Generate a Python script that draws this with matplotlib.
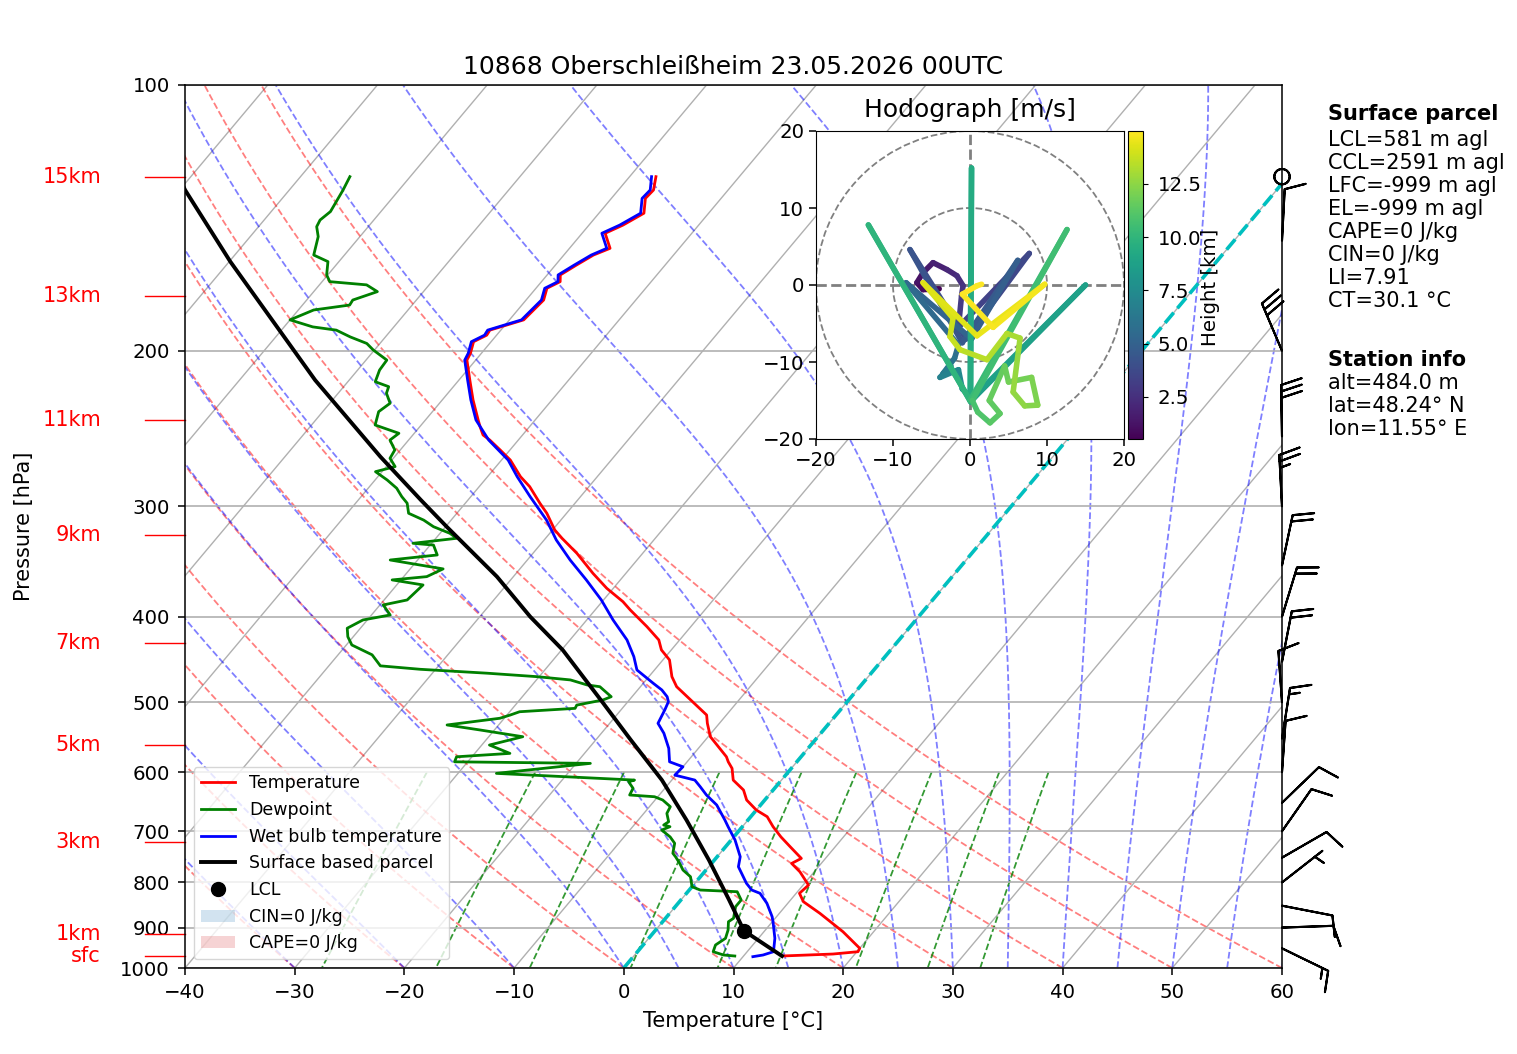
import numpy as np
import matplotlib
matplotlib.use("Agg")
import matplotlib.pyplot as plt
from matplotlib.collections import LineCollection
from matplotlib.patches import Circle, Patch
from matplotlib.lines import Line2D
from matplotlib.ticker import ScalarFormatter, NullLocator

plt.rcParams["font.size"] = 14.2

# ---- sounding (pressure hPa, temperature degC) ----
t_pres = [969.2, 964.2, 958.4, 949.9, 909.7, 867.2, 841.2, 823.0, 805.6, 778.2,
          761.3, 751.4, 729.0, 710.5, 691.8, 674.0, 662.4, 645.3, 628.7, 612.6,
          594.2, 584.1, 576.5, 547.1, 528.3, 517.0, 494.9, 480.2, 467.8, 447.8,
          436.3, 425.1, 410.6, 393.1, 384.7, 371.5, 357.3, 339.1, 326.1, 319.1,
          305.5, 297.6, 285.0, 277.7, 265.9, 259.0, 252.4, 249.1, 243.8, 239.5,
          227.3, 215.9, 204.9, 201.3, 195.3, 192.0, 189.5, 184.5, 175.2, 169.9,
          167.0, 164.1, 160.0, 155.8, 153.1, 147.2, 144.1, 139.7, 134.4, 131.5,
          127.0]
t_temp = [13.5, 18.0, 20.1, 20.0, 17.2, 13.7, 11.3, 10.3, 10.5, 8.7,
          7.3, 7.8, 5.9, 4.3, 2.8, 1.5, 0.0, -1.65, -2.7, -4.4,
          -5.4, -6.25, -6.8, -9.8, -11.1, -11.8, -14.7, -16.7, -17.9, -19.4,
          -20.9, -21.9, -24.0, -26.8, -28.1, -30.6, -33.0, -36.0, -38.5, -39.8,
          -41.8, -43.2, -45.4, -47.0, -49.2, -50.9, -52.6, -53.6, -54.5, -55.2,
          -57.2, -59.0, -60.8, -61.0, -61.6, -60.9, -61.0, -58.7, -58.4, -59.0,
          -58.3, -58.8, -58.1, -57.3, -56.3, -57.9, -56.9, -55.9, -56.9, -56.8,
          -57.6]

tw_pres = [970.9, 966.7, 958.4, 925.5, 890.0, 874.8, 844.8, 823.0, 816.0, 801.8,
           767.9, 748.1, 716.2, 691.8, 679.9, 653.7, 636.9, 623.3, 612.6, 604.7,
           591.7, 584.1, 564.0, 542.2, 528.3, 510.3, 499.4, 492.9, 484.3, 475.9,
           459.7, 444.0, 425.1, 403.5, 383.0, 363.5, 345.1, 327.5, 311.0, 292.5,
           277.7, 265.9, 252.4, 239.5, 227.3, 215.9, 204.9, 201.3, 195.3, 192.0,
           189.5, 184.5, 175.2, 169.9, 167.0, 164.1, 160.0, 155.8, 153.1, 147.2,
           144.1, 139.7, 134.4, 131.5, 127.0]
tw_temp = [10.9, 11.7, 12.4, 11.5, 10.2, 9.6, 8.1, 6.7, 5.7, 4.7,
           2.7, 2.1, 0.35, -1.3, -2.1, -4.0, -5.7, -6.9, -7.9, -10.1,
           -10.0, -11.6, -12.7, -14.3, -15.6, -16.0, -16.3, -16.8, -17.8, -19.1,
           -21.6, -22.9, -24.8, -27.6, -30.2, -33.1, -36.1, -38.9, -41.3, -44.6,
           -47.3, -49.4, -52.7, -55.4, -57.4, -59.2, -61.0, -61.2, -61.8, -61.1,
           -61.2, -58.9, -58.6, -59.2, -58.5, -59.0, -58.3, -57.5, -56.6, -58.2,
           -57.2, -56.2, -57.2, -57.1, -58.0]

td_pres = [969.2, 966.7, 958.4, 941.8, 925.5, 905.7, 886.3, 878.4, 852.2, 837.5,
           819.6, 816.0, 809.0, 788.2, 774.5, 761.3, 748.1, 741.5, 722.4, 710.5,
           697.8, 691.8, 688.8, 682.9, 668.2, 656.6, 645.3, 639.8, 636.9, 625.9,
           615.3, 612.6, 609.9, 602.0, 586.5, 584.1, 576.5, 571.4, 559.1, 547.1,
           537.6, 530.6, 521.4, 517.0, 512.6, 508.1, 503.8, 497.1, 492.9, 480.2,
           478.0, 471.8, 467.8, 463.6, 458.9, 454.8, 441.9, 430.7, 421.5, 412.3,
           403.5, 398.3, 388.0, 383.0, 368.3, 363.5, 360.4, 353.2, 345.1, 340.6,
           331.9, 330.4, 326.1, 321.9, 316.4, 311.0, 305.5, 297.6, 292.5, 286.2,
           280.1, 274.1, 270.5, 264.7, 259.0, 252.4, 248.0, 242.7, 234.4, 229.3,
           223.4, 219.6, 216.8, 210.3, 204.9, 199.6, 196.2, 192.9, 189.5, 187.9,
           184.5, 179.8, 177.5, 175.2, 171.4, 168.4, 167.0, 164.1, 158.5, 155.8,
           148.5, 144.7, 142.2, 139.1, 131.5, 127.0]
td_temp = [9.2, 8.1, 6.9, 6.6, 7.0, 6.6, 6.0, 6.2, 5.5, 5.5,
           4.5, 1.0, 0.0, -0.9, -2.1, -2.9, -3.8, -4.3, -4.9, -5.8,
           -7.1, -6.6, -7.3, -7.1, -7.9, -8.1, -9.3, -10.3, -12.7, -12.9,
           -13.8, -13.4, -16.7, -26.5, -18.7, -31.2, -31.4, -26.8, -29.3, -26.9,
           -31.3, -34.7, -30.4, -29.7, -29.1, -24.3, -24.4, -22.4, -21.9, -23.7,
           -25.0, -26.9, -30.2, -35.0, -41.4, -45.3, -46.9, -49.5, -50.5, -51.2,
           -50.4, -48.3, -49.7, -47.9, -47.6, -50.8, -47.9, -47.0, -52.5, -48.6,
           -49.7, -51.7, -48.1, -49.1, -51.1, -52.5, -54.4, -55.3, -56.3, -57.4,
           -58.9, -60.6, -59.2, -60.3, -60.5, -61.7, -61.4, -64.2, -64.9, -64.5,
           -65.6, -65.9, -67.5, -68.0, -68.1, -70.1, -71.2, -73.2, -75.0, -77.4,
           -80.0, -78.6, -75.7, -75.8, -74.2, -75.7, -79.3, -80.1, -81.0, -82.8,
           -83.8, -84.7, -84.9, -84.6, -85.1, -85.5]

parcel_pres = [969.2, 907.4, 837.5, 754.6, 679.9, 612.6, 551.8, 497.1, 436.3,
               400.1, 360.4, 316.4, 295.1, 263.6, 215.9, 158.5, 131.5, 127.0]
parcel_temp = [13.5, 8.1, 4.4, -0.5, -5.6, -10.9, -16.8, -22.6, -29.9,
               -35.4, -41.5, -49.9, -54.3, -61.3, -73.1, -89.9, -99.5, -101.1]
lcl_pres, lcl_temp = 907.4, 8.1

# wind barbs (hPa, kt, deg)
wind_pres = [950, 900, 850, 800, 750, 700, 650, 600, 550, 500, 450, 400, 350,
             300, 250, 200, 150, 127]
wind_spd = [15, 10, 10, 5, 10, 10, 10, 10, 15, 10, 20, 20, 20, 25, 30, 30, 10, 0]
wind_dir = [116, 88, 101, 52, 60, 35, 46, 4, 9, 356, 11, 17, 12, 357, 359, 337, 3, 0]

# heights marked on the left axis
hgt_labels = ["sfc", "1km", "3km", "5km", "7km", "9km", "11km", "13km", "15km"]
hgt_pres = [969.2, 915.4, 720.0, 559.1, 428.2, 323.3, 239.5, 173.3, 127.0]

# hodograph (km, m/s)
hodo_h = [0.52, 0.8, 1.1, 1.4, 1.7, 2.0, 2.3, 2.6, 2.9,
          3.2, 3.5, 3.8, 4.1, 4.4, 4.7, 5.0, 5.3, 5.6,
          5.9, 6.2, 6.5, 6.8, 7.1, 7.4, 7.7, 8.0, 8.3,
          8.6, 8.9, 9.2, 9.5, 9.8, 10.1, 10.4, 10.7,
          10.9, 11.1, 11.3, 11.5, 11.6, 11.8, 12.0, 12.2, 12.4, 12.6, 12.8, 13.0, 13.2, 13.4,
          13.6, 13.8, 14.0, 14.2, 14.4, 14.6, 14.8, 14.9, 14.95, 14.98]
hodo_u = [-4.0, -6.1, -6.9, -6.1, -4.8, -3.0, -1.7, -0.9, -1.1,
          -1.5, 7.7, -0.5, -7.8, -1.0, 6.2, 0.2, -8.3, -1.5,
          -2.0, -3.5, -2.5, -3.9, -1.5, -1.0, 0.0, 1.5, 0.2,
          15.0, 0.0, 0.2, 0.1, -13.2, 0.0, 12.6, 0.3,
          1.0, 2.6, 3.9, 2.5, 4.5, 5.0, 8.0, 8.8, 7.1, 5.6, 6.3, 6.5, 4.8, 2.2,
          -1.3, -2.6, -2.2, -6.1, 0.9, 9.7, 3.0, -1.0, 0.9, 1.5]
hodo_v = [-0.5, -0.6, 0.3, 1.6, 2.9, 2.0, 1.2, -0.1, -1.4,
          -5.5, 4.1, -7.0, 4.6, -7.5, 3.2, -7.0, 0.3, -7.8,
          -9.5, -11.5, -10.5, -12.0, -11.0, -13.5, -14.5, -13.5, -15.0,
          0.0, -15.0, 15.2, -15.2, 7.8, -15.0, 7.2, -15.0,
          -16.5, -17.9, -16.7, -15.0, -10.5, -12.6, -12.0, -15.6, -15.7, -13.9, -8.5, -6.9, -6.3, -9.7,
          -8.4, -6.7, -4.3, 0.3, -6.6, 0.1, -5.5, -1.2, -0.1, 0.1]

parcel_info = ["LCL=581 m agl", "CCL=2591 m agl", "LFC=-999 m agl", "EL=-999 m agl",
               "CAPE=0 J/kg", "CIN=0 J/kg", "LI=7.91", "CT=30.1 °C"]
station_info = ["alt=484.0 m", "lat=48.24° N", "lon=11.55° E"]

W, H = 1517, 1054
fig = plt.figure(figsize=(W / 100, H / 100), dpi=100)
ax = fig.add_axes([185 / W, 86 / H, 1097 / W, 883 / H])

# skew of the isotherms: 40 degrees in display space
K = np.tan(np.radians(40)) * (883 / np.log(10)) / (1097 / 100)


def skew(t, p):
    return np.asarray(t, float) + K * np.log(1000.0 / np.asarray(p, float))


def moist_line(t0, p):
    Rd, Cp, Lv, eps = 287.04, 1005.7, 2.501e6, 0.622

    def dtdp(T, pr):
        es = 6.112 * np.exp(17.67 * (T - 273.15) / (T - 29.65))
        rs = eps * es / (pr - es)
        return (Rd * T + Lv * rs) / (Cp + Lv * Lv * rs * eps / (Rd * T * T)) / pr

    T = t0 + 273.15
    out = [T]
    for i in range(1, len(p)):
        dp = p[i] - p[i - 1]
        k1 = dtdp(T, p[i - 1])
        k2 = dtdp(T + k1 * dp, p[i])
        T = T + 0.5 * (k1 + k2) * dp
        out.append(T)
    return np.array(out) - 273.15


pp = np.linspace(1000, 100, 250)

# isotherms
for t0 in range(-120, 61, 10):
    ax.plot(skew(t0, pp), pp, color="#b0b0b0", lw=1.0, zorder=1)
ax.yaxis.grid(True, color="#b0b0b0", lw=1.2, zorder=1)

# dry adiabats
for t0 in range(-40, 61, 10):
    tt = (t0 + 273.15) * (pp / 1000.0) ** 0.2857 - 273.15
    ax.plot(skew(tt, pp), pp, color="r", ls="--", alpha=0.5, lw=1.3, zorder=1)

# moist adiabats
for t0 in list(range(-40, 0, 10)) + list(range(0, 61, 5)):
    tt = moist_line(t0, pp)
    ax.plot(skew(tt, pp), pp, color="b", ls="--", alpha=0.5, lw=1.3, zorder=1)

# mixing ratio lines
pm = np.linspace(600, 1000, 50)
for w in [0.0004, 0.001, 0.002, 0.004, 0.007, 0.01, 0.016, 0.024, 0.032]:
    e = w * pm / (0.622 + w)
    lg = np.log(e / 6.112)
    td = 243.5 * lg / (17.67 - lg)
    ax.plot(skew(td, pm), pm, color="g", ls="--", alpha=0.8, lw=1.3, zorder=1)

ax.plot(skew(0, pp), pp, color="c", ls="--", lw=2.6, zorder=2)

ax.plot(skew(t_temp, t_pres), t_pres, color="r", lw=2.0, zorder=4)
ax.plot(skew(td_temp, td_pres), td_pres, color="g", lw=2.0, zorder=4)
ax.plot(skew(tw_temp, tw_pres), tw_pres, color="b", lw=2.0, zorder=4)
ax.plot(skew(parcel_temp, parcel_pres), parcel_pres, color="k", lw=2.8, zorder=5)
ax.plot(skew(lcl_temp, lcl_pres), lcl_pres, "ko", ms=10, zorder=6)

ax.set_yscale("log")
ax.set_ylim(1000, 100)
ax.set_xlim(-40, 60)
ax.set_yticks(np.arange(100, 1001, 100))
ax.yaxis.set_major_formatter(ScalarFormatter())
ax.yaxis.set_minor_locator(NullLocator())
ax.set_xticks(np.arange(-40, 61, 10))
ax.tick_params(length=5, width=1.1, pad=6)
for s in ax.spines.values():
    s.set_linewidth(1.1)
ax.set_xlabel("Temperature [°C]", fontsize=15, labelpad=6)
ax.set_ylabel("Pressure [hPa]", fontsize=15)
ax.yaxis.set_label_coords(-0.1377, 0.5)
ax.set_title("10868 Oberschleißheim 23.05.2026 00UTC", fontsize=18, pad=8)

# height marks
ytr = ax.get_yaxis_transform()
for lab, p in zip(hgt_labels, hgt_pres):
    ax.plot([-0.0365, 0], [p, p], color="r", lw=1.0, transform=ytr, clip_on=False)
    ax.text(-0.0766, p, lab, color="r", ha="right", va="center", transform=ytr,
            fontsize=15)

# wind barbs
wd = np.radians(wind_dir)
u = -np.array(wind_spd) * np.sin(wd)
v = -np.array(wind_spd) * np.cos(wd)
ax.barbs(np.ones(len(wind_pres)), wind_pres, u, v, transform=ytr, clip_on=False,
         length=8.6, linewidth=1.5, zorder=6)

handles = [Line2D([], [], color="r", lw=2.0, label="Temperature"),
           Line2D([], [], color="g", lw=2.0, label="Dewpoint"),
           Line2D([], [], color="b", lw=2.0, label="Wet bulb temperature"),
           Line2D([], [], color="k", lw=2.8, label="Surface based parcel"),
           Line2D([], [], color="k", marker="o", ls="", ms=10, label="LCL"),
           Patch(facecolor="tab:blue", alpha=0.2, label="CIN=0 J/kg"),
           Patch(facecolor="tab:red", alpha=0.2, label="CAPE=0 J/kg")]
leg = ax.legend(handles=handles, loc="lower left", fontsize=12.5)
leg.set_zorder(10)

# hodograph
hax = fig.add_axes([816 / W, (H - 439) / H, 308 / W, 308 / H])
hax.set_xlim(-20, 20)
hax.set_ylim(-20, 20)
for r in (10, 20):
    hax.add_patch(Circle((0, 0), r, fill=False, ls="--", color="gray", lw=1.3))
hax.axhline(0, color="gray", ls="--", lw=2)
hax.axvline(0, color="gray", ls="--", lw=2)
pts = np.column_stack([hodo_u, hodo_v])
segs = np.stack([pts[:-1], pts[1:]], axis=1)
hh = np.array(hodo_h)
lc = LineCollection(segs, cmap="viridis", norm=plt.Normalize(hh.min(), hh.max()),
                    linewidth=4, capstyle="round")
lc.set_array((hh[:-1] + hh[1:]) / 2)
hax.add_collection(lc)
hax.set_xticks([-20, -10, 0, 10, 20])
hax.set_yticks([-20, -10, 0, 10, 20])
hax.tick_params(length=5, width=1.1)
hax.set_title("Hodograph [m/s]", fontsize=18, pad=10)

cax = fig.add_axes([1128 / W, (H - 439) / H, 15 / W, 308 / H])
cb = fig.colorbar(lc, cax=cax)
cb.set_ticks([2.5, 5.0, 7.5, 10.0, 12.5])
cax.tick_params(pad=7)
fig.text(1211 / W, 1 - 287 / H, "Height [km]", rotation=90, ha="center", va="center")

# text panel
fig.text(1328 / W, 1 - 114 / H, "Surface parcel", fontweight="bold", va="center",
         fontsize=15)
for i, s in enumerate(parcel_info):
    fig.text(1328 / W, 1 - (140 + 23 * i) / H, s, va="center", fontsize=15)
fig.text(1328 / W, 1 - 360 / H, "Station info", fontweight="bold", va="center",
         fontsize=15)
for i, s in enumerate(station_info):
    fig.text(1328 / W, 1 - (383 + 23 * i) / H, s, va="center", fontsize=15)

fig.savefig("out.png", dpi=100)
